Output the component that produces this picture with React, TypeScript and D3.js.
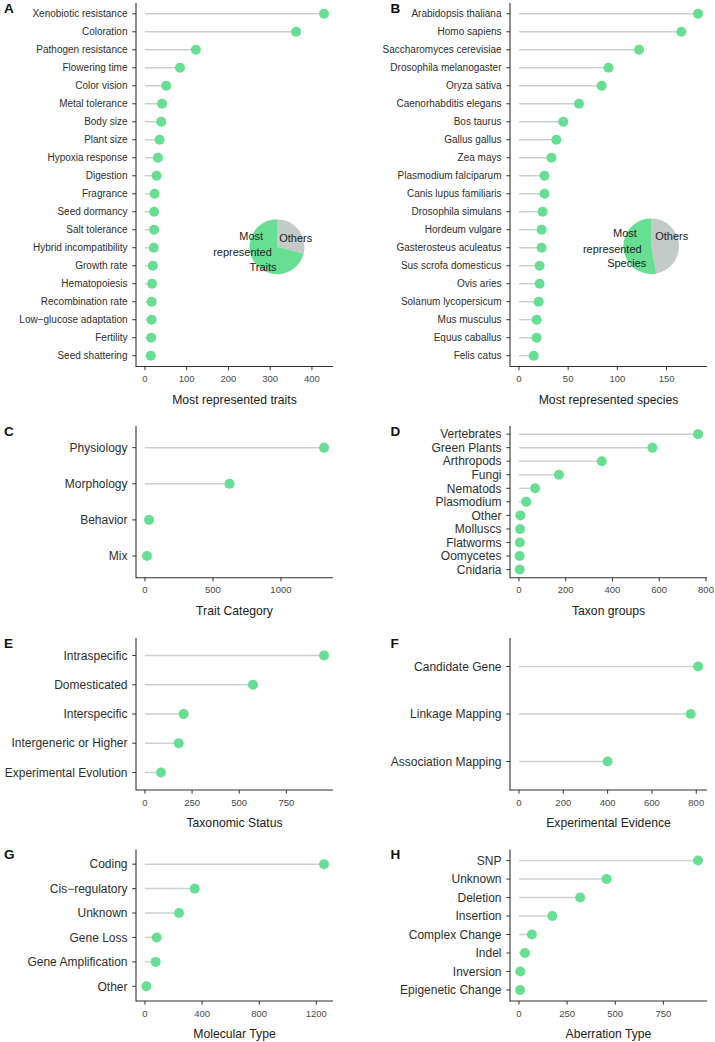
import React from "react";
import * as d3 from "d3";

// ---------- DATA ----------
const traitNames = ["Xenobiotic resistance","Coloration","Pathogen resistance","Flowering time","Color vision","Metal tolerance","Body size","Plant size","Hypoxia response","Digestion","Fragrance","Seed dormancy","Salt tolerance","Hybrid incompatibility","Growth rate","Hematopoiesis","Recombination rate","Low\u2212glucose adaptation","Fertility","Seed shattering"];
const traitValues = [429,362,122,84,51,41,39,35,31,28,23,22,22,21,19,17,16,16,15,14];
const traitTicks = [0,100,200,300,400];

const speciesNames = ["Arabidopsis thaliana","Homo sapiens","Saccharomyces cerevisiae","Drosophila melanogaster","Oryza sativa","Caenorhabditis elegans","Bos taurus","Gallus gallus","Zea mays","Plasmodium falciparum","Canis lupus familiaris","Drosophila simulans","Hordeum vulgare","Gasterosteus aculeatus","Sus scrofa domesticus","Ovis aries","Solanum lycopersicum","Mus musculus","Equus caballus","Felis catus"];
const speciesValues = [182,165,122,91,84,61,45,38,33,26,26,24,23,23,21,21,20,18,18,15];
const speciesTicks = [0,50,100,150];

const pieTraitsValues = [579, 1407]; // Others, Most represented
const pieSpeciesValues = [936, 1056];

const categoryNames = ["Physiology","Morphology","Behavior","Mix"];
const categoryValues = [1317,622,30,15];
const categoryTicks = [0,500,1000];

const taxonNames = ["Vertebrates","Green Plants","Arthropods","Fungi","Nematods","Plasmodium","Other","Molluscs","Flatworms","Oomycetes","Cnidaria"];
const taxonValues = [766,571,354,171,69,31,6,5,4,3,3];
const taxonTicks = [0,200,400,600,800];

const statusNames = ["Intraspecific","Domesticated","Interspecific","Intergeneric or Higher","Experimental Evolution"];
const statusValues = [950,573,205,179,85];
const statusTicks = [0,250,500,750];

const evidenceNames = ["Candidate Gene","Linkage Mapping","Association Mapping"];
const evidenceValues = [808,775,400];
const evidenceTicks = [0,200,400,600,800];

const molecularNames = ["Coding","Cis\u2212regulatory","Unknown","Gene Loss","Gene Amplification","Other"];
const molecularValues = [1254,349,239,82,75,10];
const molecularTicks = [0,400,800,1200];

const aberrationNames = ["SNP","Unknown","Deletion","Insertion","Complex Change","Indel","Inversion","Epigenetic Change"];
const aberrationValues = [930,455,318,173,67,31,7,6];
const aberrationTicks = [0,250,500,750];

// ---------- STYLE ----------
const GREEN = "#67DF93";
const SEG = "#C9D2D0";
const PIEGREY = "#C3CAC8";
const AXIS = "#333333";
const FONT = "'Liberation Sans', Arial, Helvetica, sans-serif";

type PanelProps = {
  letter: string;
  names: string[];
  values: number[];
  ticks: number[];
  title: string;
  x0: number; x1: number; y0: number; y1: number;
  labelSize: number;
  letterX: number; letterY: number;
};

function Panel(p: PanelProps) {
  const max = d3.max(p.values) as number;
  const x = d3.scaleLinear().domain([-0.05 * max, 1.05 * max]).range([p.x0, p.x1]);
  const y = d3.scalePoint<string>().domain(p.names).range([p.y0, p.y1]).padding(0.6);
  return (
    <g fontFamily={FONT}>
      <text x={p.letterX} y={p.letterY} dy="0.36em" fontSize={13.5} fontWeight="bold" fill="#111">{p.letter}</text>
      {p.names.map((n, i) => (
        <g key={n}>
          <line x1={x(0)} x2={x(p.values[i])} y1={y(n)} y2={y(n)} stroke={SEG} strokeWidth={1.5} />
          <circle cx={x(p.values[i])} cy={y(n)} r={5} fill={GREEN} />
          <line x1={p.x0 - 3.7} x2={p.x0} y1={y(n)} y2={y(n)} stroke={AXIS} strokeWidth={1} />
          <text x={p.x0 - 8.5} y={y(n)} dy="0.35em" textAnchor="end" fontSize={p.labelSize} fill="#2e2e2e">{n}</text>
        </g>
      ))}
      {p.ticks.map((t) => (
        <g key={t}>
          <line x1={x(t)} x2={x(t)} y1={p.y1} y2={p.y1 + 3.7} stroke={AXIS} strokeWidth={1} />
          <text x={x(t)} y={p.y1 + 12.3} dy="0.35em" textAnchor="middle" fontSize={9.5} fill="#4a4a4a">{t}</text>
        </g>
      ))}
      <line x1={p.x0} x2={p.x0} y1={p.y0} y2={p.y1 + 0.5} stroke={AXIS} strokeWidth={1.1} />
      <line x1={p.x0} x2={p.x1} y1={p.y1} y2={p.y1} stroke={AXIS} strokeWidth={1.1} />
      <text x={(p.x0 + p.x1) / 2} y={p.y1 + 32.8} dy="0.35em" textAnchor="middle" fontSize={12.2} fill="#222">{p.title}</text>
    </g>
  );
}

type PieProps = {
  values: number[];
  cx: number; cy: number; r: number;
  labels: { t: string; dx: number; dy: number }[];
};

function Pie(p: PieProps) {
  const arcs = d3.pie<number>().sort(null).startAngle(0).endAngle(2 * Math.PI)(p.values);
  const arc = d3.arc<d3.PieArcDatum<number>>().innerRadius(0).outerRadius(p.r);
  const colors = [PIEGREY, GREEN];
  return (
    <g transform={`translate(${p.cx},${p.cy})`} fontFamily={FONT}>
      {arcs.map((a, i) => (
        <path key={i} d={arc(a) as string} fill={colors[i]} />
      ))}
      {p.labels.map((l) => (
        <text key={l.t} x={l.dx} y={l.dy} dy="0.35em" textAnchor="middle" fontSize={11} fill="#222">{l.t}</text>
      ))}
    </g>
  );
}

export default function App() {
  const L = { x0: 136, x1: 333 };
  const R = { x0: 510, x1: 707 };
  return (
    <svg width={715} height={1042} style={{ position: "absolute", left: 0, top: 0, background: "#fff" }}>
      <rect width={715} height={1042} fill="#fff" />
      <Panel letter="A" names={traitNames} values={traitValues} ticks={traitTicks} title="Most represented traits"
        {...L} y0={3} y1={366.5} labelSize={10} letterX={4} letterY={8.5} />
      <Pie values={pieTraitsValues} cx={277} cy={246.7} r={27.5}
        labels={[{ t: "Others", dx: 18.7, dy: -9 }, { t: "Most", dx: -25.8, dy: -10.7 }, { t: "represented", dx: -34.5, dy: 5 }, { t: "Traits", dx: -14, dy: 20.3 }]} />
      <Panel letter="B" names={speciesNames} values={speciesValues} ticks={speciesTicks} title="Most represented species"
        {...R} y0={3} y1={366.5} labelSize={10} letterX={390.5} letterY={8.5} />
      <Pie values={pieSpeciesValues} cx={651.2} cy={246.2} r={27.8}
        labels={[{ t: "Others", dx: 20.5, dy: -10.5 }, { t: "Most", dx: -26.2, dy: -13.2 }, { t: "represented", dx: -38.9, dy: 2.5 }, { t: "Species", dx: -24.5, dy: 17.1 }]} />
      <Panel letter="C" names={categoryNames} values={categoryValues} ticks={categoryTicks} title="Trait Category"
        {...L} y0={426} y1={577.7} labelSize={12} letterX={4} letterY={431.5} />
      <Panel letter="D" names={taxonNames} values={taxonValues} ticks={taxonTicks} title="Taxon groups"
        {...R} y0={426} y1={577.7} labelSize={12} letterX={390.5} letterY={431} />
      <Panel letter="E" names={statusNames} values={statusValues} ticks={statusTicks} title="Taxonomic Status"
        {...L} y0={638} y1={790} labelSize={12} letterX={4} letterY={643} />
      <Panel letter="F" names={evidenceNames} values={evidenceValues} ticks={evidenceTicks} title="Experimental Evidence"
        {...R} y0={638} y1={790} labelSize={12} letterX={390.5} letterY={642.7} />
      <Panel letter="G" names={molecularNames} values={molecularValues} ticks={molecularTicks} title="Molecular Type"
        {...L} y0={849.5} y1={1001} labelSize={12} letterX={4} letterY={854.3} />
      <Panel letter="H" names={aberrationNames} values={aberrationValues} ticks={aberrationTicks} title="Aberration Type"
        {...R} y0={849.5} y1={1001} labelSize={12} letterX={390.5} letterY={854.3} />
    </svg>
  );
}
